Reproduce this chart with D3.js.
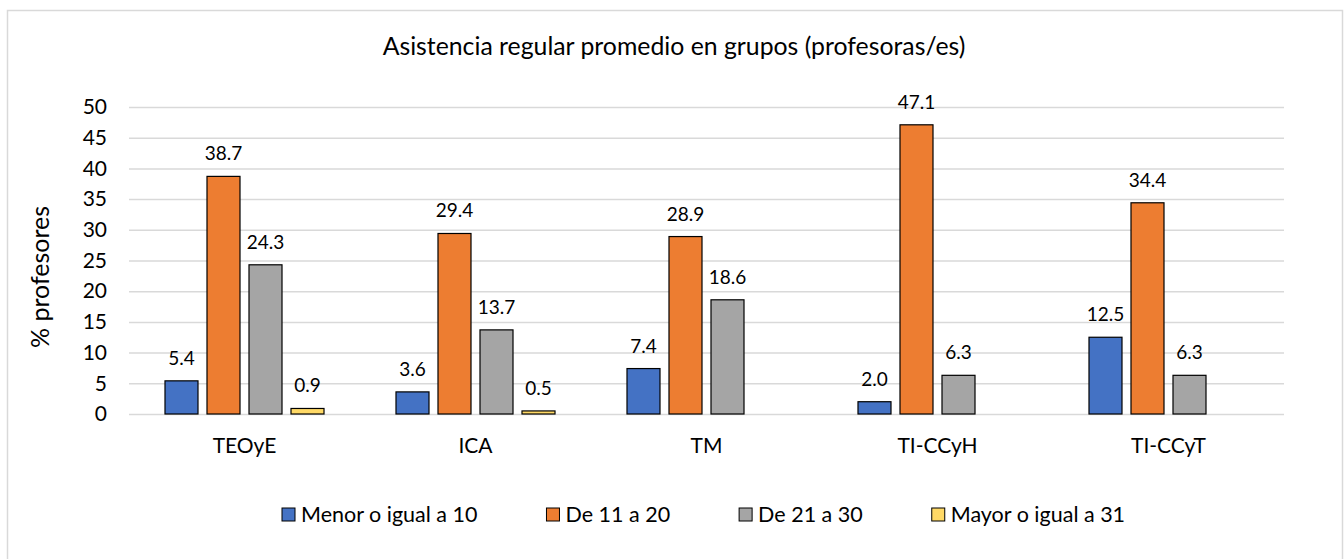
<!DOCTYPE html>
<html>
<head>
<meta charset="utf-8">
<script src="https://cdn.jsdelivr.net/npm/d3@7"></script>
<style>
	body { margin: 0; background: #fff; }
	text { font-family: Lato, "Open Sans", sans-serif; fill: #000; }
</style>
</head>
<body>
<script>
'use strict';

// Chart data.
const categories = ["TEOyE", "ICA", "TM", "TI-CCyH", "TI-CCyT"];
const seriesNames = ["Menor o igual a 10", "De 11 a 20", "De 21 a 30", "Mayor o igual a 31"];
const seriesColors = ["#4472C4", "#ED7D31", "#A5A5A5", "#FFD966"];
const menorIgual10 = [5.4, 3.6, 7.4, 2.0, 12.5];
const de11a20 = [38.7, 29.4, 28.9, 47.1, 34.4];
const de21a30 = [24.3, 13.7, 18.6, 6.3, 6.3];
const mayorIgual31 = [0.9, 0.5, null, null, null];
const yTicks = [0, 5, 10, 15, 20, 25, 30, 35, 40, 45, 50];
const title = "Asistencia regular promedio en grupos (profesoras/es)";
const yTitle = "% profesores";

const seriesValues = [menorIgual10, de11a20, de21a30, mayorIgual31];

const width = 1344, height = 559;
const plot = { left: 129, right: 1284, top: 107, bottom: 414 };

let svg = d3.select("body").append("svg")
	.attr("width", width)
	.attr("height", height);

// Outer chart border
svg.append("rect")
	.attr("x", 7.5).attr("y", 10.5)
	.attr("width", 1335).attr("height", 560)
	.attr("fill", "#fff")
	.attr("stroke", "#D9D9D9")
	.attr("stroke-width", 1.5);

// Scales
let x0 = d3.scaleBand()
	.domain(categories)
	.range([plot.left, plot.right]);

let x1 = d3.scaleBand()
	.domain(d3.range(seriesNames.length))
	.range([0, x0.bandwidth()])
	.paddingInner(9 / 42)
	.paddingOuter(0.857);

let y = d3.scaleLinear()
	.domain([0, 50])
	.range([plot.bottom, plot.top]);

// Gridlines + tick labels
let yAxis = svg.append("g")
	.attr("transform", "translate(" + plot.left + ",0)")
	.call(d3.axisLeft(y).tickValues(yTicks).tickSize(-(plot.right - plot.left)).tickPadding(22));
yAxis.select(".domain").remove();
yAxis.selectAll(".tick line").attr("stroke", "#D9D9D9").attr("stroke-width", 1.5);
yAxis.selectAll(".tick text")
	.style("font-family", "Lato, sans-serif")
	.attr("font-size", 21)
	.attr("fill", "#000");

// Category labels
let xAxis = svg.append("g")
	.attr("transform", "translate(0," + plot.bottom + ")")
	.call(d3.axisBottom(x0).tickSize(0).tickPadding(24));
xAxis.select(".domain").remove();
xAxis.selectAll(".tick text")
	.style("font-family", "Lato, sans-serif")
	.attr("font-size", 21)
	.attr("fill", "#000");

// Bars
let rows = [];
categories.forEach(function(c, ci) {
	seriesValues.forEach(function(vals, si) {
		if (vals[ci] != null)
		{
			rows.push({ cat: c, s: si, v: vals[ci] });
		}
	});
});

let bars = svg.append("g");
bars.selectAll("rect")
	.data(rows)
	.enter()
	.append("rect")
	.attr("x", d => x0(d.cat) + x1(d.s))
	.attr("y", d => y(d.v))
	.attr("width", x1.bandwidth())
	.attr("height", d => y(0) - y(d.v))
	.attr("fill", d => seriesColors[d.s])
	.attr("stroke", "#000")
	.attr("stroke-width", 1.2);

bars.selectAll("text")
	.data(rows)
	.enter()
	.append("text")
	.attr("x", d => x0(d.cat) + x1(d.s) + x1.bandwidth() / 2)
	.attr("y", d => y(d.v) - 16)
	.attr("text-anchor", "middle")
	.attr("font-size", 19)
	.text(d => d.v.toFixed(1));

// Title
svg.append("text")
	.attr("x", 674)
	.attr("y", 55)
	.attr("text-anchor", "middle")
	.attr("font-size", 24.8)
	.text(title);

// Y axis title
svg.append("text")
	.attr("transform", "translate(49,277) rotate(-90)")
	.attr("text-anchor", "middle")
	.attr("font-size", 25)
	.text(yTitle);

// Legend: items laid out left to right from the first swatch
let legend = svg.append("g");
let lx = 282;
seriesNames.forEach(function(name, i) {
	let g = legend.append("g").attr("transform", "translate(" + lx + ",508)");
	g.append("rect")
		.attr("width", 13).attr("height", 13)
		.attr("fill", seriesColors[i])
		.attr("stroke", "#000")
		.attr("stroke-width", 1);
	let t = g.append("text")
		.attr("x", 19)
		.attr("y", 14)
		.attr("font-size", 21.5)
		.text(name);
	lx += 19 + t.node().getComputedTextLength() + 69;
});
</script>
</body>
</html>
